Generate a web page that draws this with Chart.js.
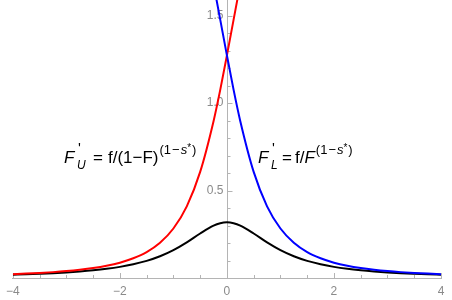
<!DOCTYPE html>
<html>
<head>
<meta charset="utf-8">
<script src="https://cdn.jsdelivr.net/npm/chart.js@4.4.0/dist/chart.umd.min.js"></script>
<style>
  html, body { margin: 0; padding: 0; background: #fff; }
  #wrap { width: 452px; height: 300px; }
</style>
</head>
<body>
<div id="wrap"><canvas id="hazard"></canvas></div>
<script>
// x positions
const xValues = [-4, -3.75, -3.5, -3.25, -3, -2.75, -2.5, -2.25, -2, -1.75, -1.5, -1.25, -1, -0.75, -0.5, -0.25, -0.125,
  0, 0.125, 0.25, 0.5, 0.75, 1, 1.25, 1.5, 1.75, 2, 2.25, 2.5, 2.75, 3, 3.25, 3.5, 3.75, 4];

// black curve (f)
const densityValues = [0.0187, 0.0211, 0.0241, 0.0275, 0.0318, 0.0372, 0.0439, 0.0525, 0.0637, 0.0786, 0.0979, 0.1242,
  0.1592, 0.2037, 0.2546, 0.2996, 0.3134, 0.3183, 0.3134, 0.2996, 0.2546, 0.2037, 0.1592, 0.1242, 0.0979, 0.0786,
  0.0637, 0.0525, 0.0439, 0.0372, 0.0318, 0.0275, 0.0241, 0.0211, 0.0187];

// red curve (F'_U), runs off the top after x = 0.2
const upperValues = [0.022, 0.0251, 0.029, 0.0336, 0.0395, 0.0471, 0.0568, 0.0699, 0.0877, 0.1128, 0.1482, 0.2015,
  0.283, 0.41, 0.607, 0.897, 1.076, 1.273, 1.478, 1.682,
  null, null, null, null, null, null, null, null, null, null, null, null, null, null, null];

// blue curve (F'_L), comes in from the top at x = -0.2
const lowerValues = [null, null, null, null, null, null, null, null, null, null, null, null, null, null, null,
  1.682, 1.478, 1.273, 1.076, 0.897, 0.607, 0.41, 0.283, 0.2015, 0.1482, 0.1128, 0.0877, 0.0699, 0.0568, 0.0471,
  0.0395, 0.0336, 0.029, 0.0251, 0.022];

const xTickLabels = [-4, -2, 0, 2, 4];
const yTickLabels = [0.5, 1.0, 1.5];

const AXIS_COLOR = "#b4b4b4";
const LABEL_COLOR = "#8a8a8a";
const FONT = "'Liberation Sans', Arial, sans-serif";

const toPoints = (ys) =>
  xValues.map((x, i) => ({ x: x, y: ys[i] })).filter((p) => p.y !== null);

const minus = (v) => (v < 0 ? "\u2212" + Math.abs(v) : String(v));

// axis at x = 0 plus minor tick marks, Mathematica style
const axesPlugin = {
  id: "axes",
  beforeDatasetsDraw(chart) {
    const { ctx, chartArea, scales } = chart;
    const xs = scales.x;
    const ys = scales.y;
    const x0 = Math.round(xs.getPixelForValue(0)) + 0.5;
    const yb = chartArea.bottom;
    ctx.save();
    ctx.strokeStyle = AXIS_COLOR;
    ctx.lineWidth = 1;
    ctx.beginPath();
    ctx.moveTo(x0, chartArea.top);
    ctx.lineTo(x0, yb);
    // y ticks every 0.1, to the right
    for (let k = 1; k <= 15; k++) {
      const v = k / 10;
      const py = Math.round(ys.getPixelForValue(v)) + 0.5;
      const len = k % 5 === 0 ? 5 : 3;
      ctx.moveTo(x0, py);
      ctx.lineTo(x0 + len, py);
    }
    // x ticks every 0.5, pointing up
    for (let k = -8; k <= 8; k++) {
      const v = k / 2;
      const px = Math.round(xs.getPixelForValue(v)) + 0.5;
      const len = xTickLabels.includes(v) ? 5 : 3;
      ctx.moveTo(px, yb);
      ctx.lineTo(px, yb - len);
    }
    ctx.stroke();

    ctx.fillStyle = LABEL_COLOR;
    ctx.font = "12px " + FONT;
    ctx.textAlign = "right";
    ctx.textBaseline = "middle";
    yTickLabels.forEach((v) => {
      ctx.fillText(v.toFixed(1), x0 - 4, ys.getPixelForValue(v));
    });
    ctx.restore();
  },
  afterDatasetsDraw(chart) {
    const { ctx } = chart;
    ctx.save();
    ctx.fillStyle = "#000";
    ctx.textAlign = "left";
    ctx.textBaseline = "alphabetic";
    const base = 163;

    // F'_U = f/(1-F)^(1-s*)
    put(ctx, "F", 64, base, "italic 17px");
    put(ctx, "'", 78, base - 10, "15px");
    put(ctx, "U", 77, base + 6, "italic 12px");
    put(ctx, "=", 93, base, "17px");
    let x = put(ctx, "f/(1\u2212F)", 108, base, "17px");
    exponent(ctx, x + 1, base - 9);

    // F'_L = f/F^(1-s*)
    put(ctx, "F", 258, base, "italic 17px");
    put(ctx, "'", 272, base - 10, "15px");
    put(ctx, "L", 271, base + 6, "italic 12px");
    put(ctx, "=", 282, base, "17px");
    x = put(ctx, "f/", 295, base, "17px");
    x = put(ctx, "F", x, base, "italic 17px");
    exponent(ctx, x + 1, base - 9);
    ctx.restore();
  },
};

// superscript (1 - s*)
function exponent(ctx, x, y) {
  x = put(ctx, "(1", x, y, "13px");
  x = put(ctx, "\u2212", x + 1, y, "13px");
  x = put(ctx, "s", x + 1, y, "italic 13px");
  x = put(ctx, "*", x, y - 3, "10px");
  put(ctx, ")", x + 1, y, "13px");
}

function put(ctx, text, x, y, font) {
  ctx.font = font + " " + FONT;
  ctx.fillText(text, x, y);
  return x + ctx.measureText(text).width;
}

const curve = (label, ys, color) => ({
  label: label,
  data: toPoints(ys),
  borderColor: color,
  borderWidth: 2,
  pointRadius: 0,
  showLine: true,
  cubicInterpolationMode: "monotone",
});

new Chart(document.getElementById("hazard"), {
  type: "scatter",
  data: {
    datasets: [
      curve("F'_L", lowerValues, "#0000ff"),
      curve("F'_U", upperValues, "#ff0000"),
      curve("f", densityValues, "#000000"),
    ],
  },
  options: {
    responsive: true,
    maintainAspectRatio: false,
    animation: false,
    layout: { padding: { left: 9, right: 11, top: 0, bottom: 0 } },
    plugins: {
      legend: { display: false },
      tooltip: { enabled: false },
    },
    scales: {
      x: {
        type: "linear",
        min: -4,
        max: 4,
        afterFit: (scale) => {
          scale.height = 22;
        },
        grid: { display: false, drawTicks: false },
        border: { display: true, color: AXIS_COLOR, width: 1 },
        ticks: {
          stepSize: 2,
          padding: 6,
          color: LABEL_COLOR,
          font: { size: 12, family: FONT },
          callback: (v) => (xTickLabels.includes(v) ? minus(v) : ""),
          maxRotation: 0,
        },
      },
      y: {
        type: "linear",
        min: 0,
        max: 1.59,
        display: false,
      },
    },
  },
  plugins: [axesPlugin],
});
</script>
</body>
</html>
